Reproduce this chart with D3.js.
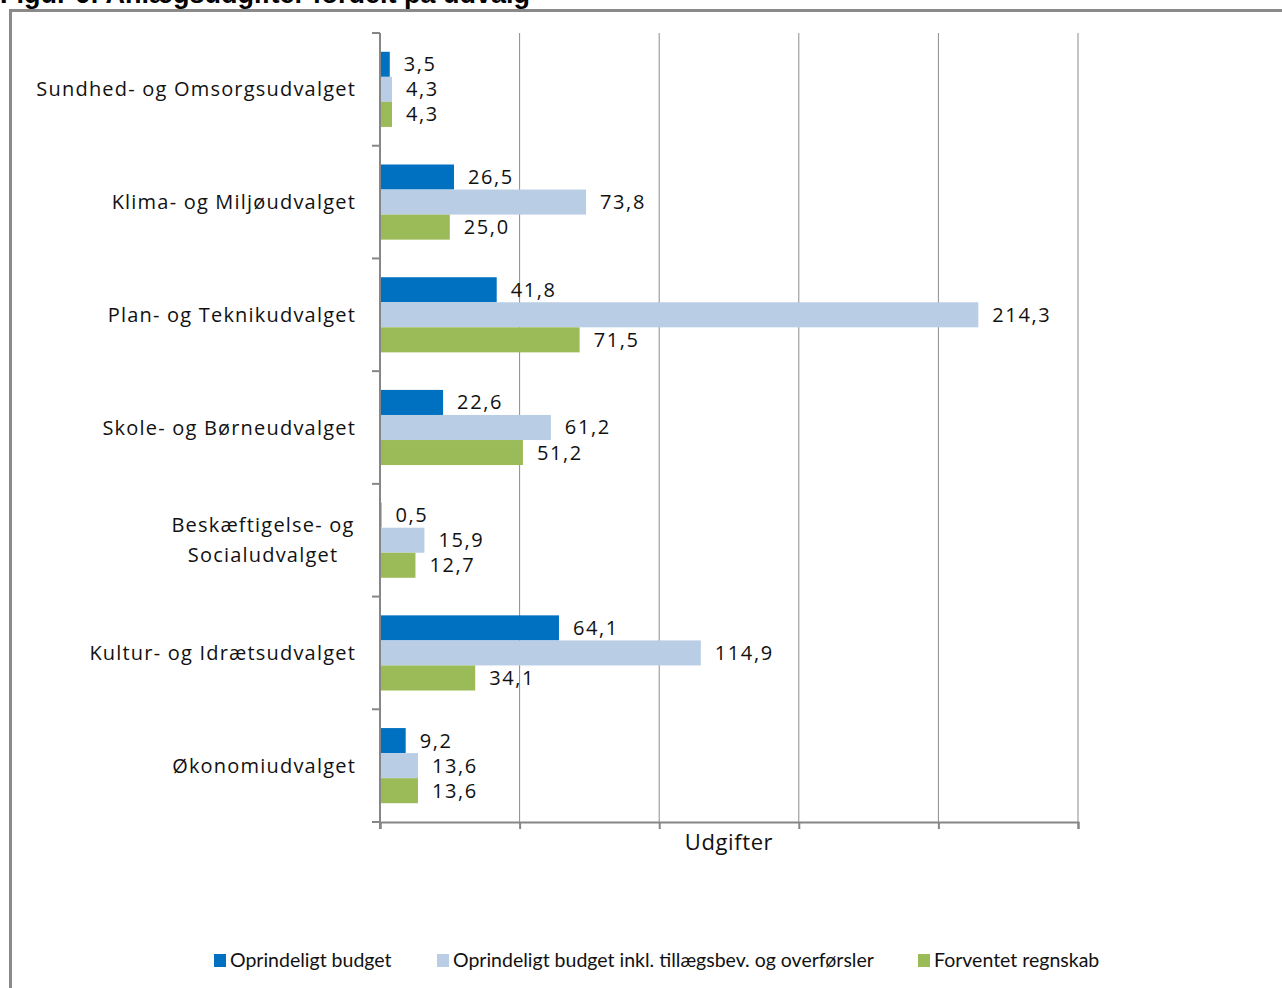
<!DOCTYPE html>
<html>
<head>
<meta charset="utf-8">
<script src="https://cdn.jsdelivr.net/npm/d3@7/dist/d3.min.js"></script>
<style>
  body { margin: 0; background: #fff; }
  svg { display: block; }
</style>
</head>
<body>
<svg id="chart" width="1282" height="988"></svg>
<script>
var categories = [
    "Sundhed- og Omsorgsudvalget",
    "Klima- og Miljøudvalget",
    "Plan- og Teknikudvalget",
    "Skole- og Børneudvalget",
    "Beskæftigelse- og Socialudvalget",
    "Kultur- og Idrætsudvalget",
    "Økonomiudvalget"
];
var seriesNames = [
    "Oprindeligt budget",
    "Oprindeligt budget inkl. tillægsbev. og overførsler",
    "Forventet regnskab"
];
var oprindeligt = [3.5, 26.5, 41.8, 22.6, 0.5, 64.1, 9.2];
var inklTillaeg = [4.3, 73.8, 214.3, 61.2, 15.9, 114.9, 13.6];
var forventet = [4.3, 25.0, 71.5, 51.2, 12.7, 34.1, 13.6];
var xTicks = [0, 50, 100, 150, 200, 250];

var colors = ["#0070C0", "#B9CDE5", "#9BBB59"];
var seriesValues = [oprindeligt, inklTillaeg, forventet];

var svg = d3.select('#chart');
var labelFont = "'Open Sans', 'Noto Sans', sans-serif";

// frame + title
svg.append('rect')
    .attr('x', 10.5).attr('y', 10.5)
    .attr('width', 1300).attr('height', 1000)
    .attr('fill', 'none')
    .attr('stroke', '#8a8a8a')
    .attr('stroke-width', 3);

svg.append('text')
    .attr('x', 0).attr('y', 3)
    .style('font-family', "'Liberation Sans', Arial, sans-serif")
    .style('font-weight', 'bold')
    .style('font-size', '27px')
    .text('Figur 6: Anlægsudgifter fordelt på udvalg');

var plotLeft = 380, plotRight = 1078, plotTop = 33, plotBottom = 822;

var xScale = d3.scaleLinear().domain([0, 250]).range([plotLeft, plotRight]);
var yScale = d3.scaleBand().domain(categories).range([plotTop, plotBottom]).padding(0);
var inner = d3.scaleBand().domain(d3.range(seriesNames.length))
    .range([0, yScale.bandwidth()])
    .paddingInner(0).paddingOuter(0.75);

var fmt = d3.formatLocale({decimal: ",", thousands: ".", grouping: [3], currency: ["", " kr."]}).format(".1f");

// gridlines
svg.append('g').selectAll('line')
    .data(xTicks.slice(1))
    .enter().append('line')
    .attr('x1', function (d) { return xScale(d); })
    .attr('x2', function (d) { return xScale(d); })
    .attr('y1', plotTop).attr('y2', plotBottom)
    .attr('stroke', '#8c8c8c').attr('stroke-width', 1);

// bars
var groups = svg.append('g').selectAll('g')
    .data(categories)
    .enter().append('g')
    .attr('transform', function (d) { return 'translate(0,' + yScale(d) + ')'; });

groups.each(function (cat, ci) {
    var g = d3.select(this);
    seriesValues.forEach(function (vals, si) {
        g.append('rect')
            .attr('x', xScale(0))
            .attr('y', inner(si))
            .attr('width', xScale(vals[ci]) - xScale(0))
            .attr('height', inner.bandwidth())
            .attr('fill', colors[si]);
        g.append('text')
            .attr('x', xScale(vals[ci]) + 14)
            .attr('y', inner(si) + inner.bandwidth() / 2)
            .attr('dy', '0.35em')
            .style('font-family', labelFont)
            .style('font-size', '20px')
            .style('letter-spacing', '1.6px')
            .style('fill', '#111')
            .text(fmt(vals[ci]));
    });
});

// y axis
svg.append('line')
    .attr('x1', plotLeft).attr('x2', plotLeft)
    .attr('y1', plotTop).attr('y2', plotBottom + 7)
    .attr('stroke', '#868686').attr('stroke-width', 2);
svg.append('g').selectAll('line')
    .data(d3.range(categories.length + 1))
    .enter().append('line')
    .attr('x1', plotLeft - 8).attr('x2', plotLeft)
    .attr('y1', function (i) { return plotTop + i * yScale.step(); })
    .attr('y2', function (i) { return plotTop + i * yScale.step(); })
    .attr('stroke', '#868686').attr('stroke-width', 2);

// x axis
var xAxis = d3.axisBottom(xScale).tickValues(xTicks).tickSize(7).tickFormat('');
var xg = svg.append('g')
    .attr('transform', 'translate(0,' + plotBottom + ')')
    .call(xAxis);
xg.select('.domain').attr('stroke', '#868686').attr('stroke-width', 2);
xg.selectAll('.tick line').attr('stroke', '#868686').attr('stroke-width', 2);

svg.append('text')
    .attr('x', (plotLeft + plotRight) / 2)
    .attr('y', 850)
    .attr('text-anchor', 'middle')
    .style('font-family', labelFont)
    .style('font-size', '22px')
    .style('letter-spacing', '0.6px')
    .style('fill', '#111')
    .text('Udgifter');

// category labels
var catLabels = svg.append('g').selectAll('text')
    .data(categories)
    .enter().append('text')
    .style('font-family', labelFont)
    .style('font-size', '20px')
    .style('letter-spacing', '1.2px')
    .style('fill', '#111');

catLabels.each(function (d) {
    var t = d3.select(this),
        cy = yScale(d) + yScale.bandwidth() / 2;
    if (d.length > 28) {
        var words = d.split(' '),
            line1 = words.slice(0, 2).join(' '),
            line2 = words.slice(2).join(' ');
        t.attr('text-anchor', 'middle');
        t.append('tspan').attr('x', 263).attr('y', cy - 15).attr('dy', '0.35em').text(line1);
        t.append('tspan').attr('x', 263).attr('y', cy + 15).attr('dy', '0.35em').text(line2);
    } else {
        t.attr('text-anchor', 'end')
            .attr('x', 356).attr('y', cy).attr('dy', '0.35em')
            .text(d);
    }
});

// legend
var legendX = [214, 437, 918];
var legend = svg.append('g').selectAll('g')
    .data(seriesNames)
    .enter().append('g')
    .attr('transform', function (d, i) { return 'translate(' + legendX[i] + ',960)'; });
legend.append('rect')
    .attr('x', 0).attr('y', -6)
    .attr('width', 12).attr('height', 13)
    .attr('fill', function (d, i) { return colors[i]; });
legend.append('text')
    .attr('x', 16).attr('y', 0).attr('dy', '0.35em')
    .style('font-family', "Lato, sans-serif")
    .style('font-size', '19.5px')
    .style('fill', '#111')
    .text(function (d) { return d; });
</script>
</body>
</html>
